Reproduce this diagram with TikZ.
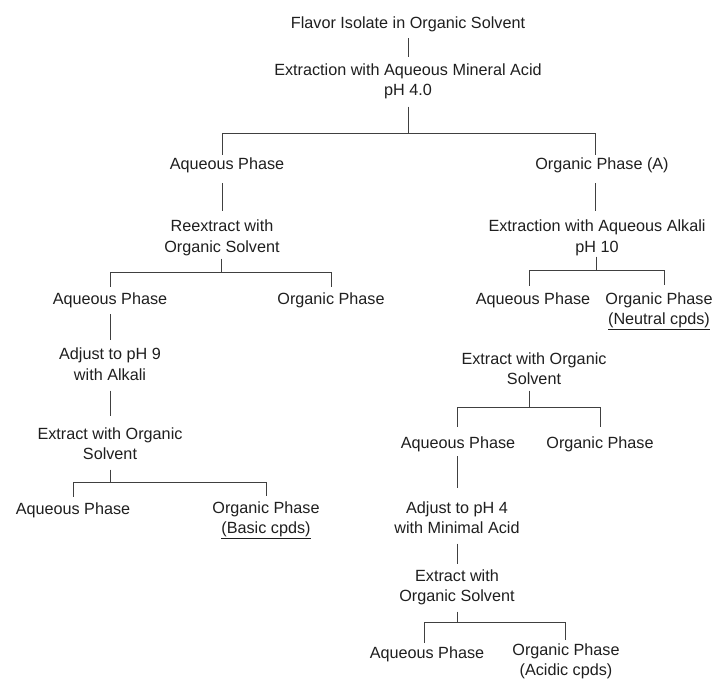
\documentclass[tikz,border=0pt]{standalone}
\usepackage{fontspec}
\setmainfont{Liberation Sans}
\usetikzlibrary{calc}
\begin{document}
\begin{tikzpicture}[x=1pt,y=-1pt,
  lbl/.style={font=\fontsize{16.2}{20.5}\selectfont, align=center, inner sep=0pt, text=black!88},
  ln/.style={draw=black!75, line width=0.9pt}]
\useasboundingbox (0,0) rectangle (715,680);
\clip (0,0) rectangle (715,680);
\fill[white] (0,0) rectangle (715,680);

% nodes
\node[lbl] (t0) at (408,24.5) {\strut Flavor Isolate in Organic Solvent};
\node[lbl] (e1) at (408,81.5) {\strut Extraction with Aqueous Mineral Acid\\\strut pH 4.0};
\node[lbl] (a1) at (227,165) {\strut Aqueous Phase};
\node[lbl] (o1) at (602,165) {\strut Organic Phase (A)};
\node[lbl] (r1) at (222,238) {\strut Reextract with\\\strut Organic Solvent};
\node[lbl] (x1) at (597,238) {\strut Extraction with Aqueous Alkali\\\strut pH 10};
\node[lbl] (a2) at (110,300) {\strut Aqueous Phase};
\node[lbl] (o2) at (331,300) {\strut Organic Phase};
\node[lbl] (a3) at (533,300) {\strut Aqueous Phase};
\node[lbl] (o3) at (659,310.5) {\strut Organic Phase\\\strut\underline{(Neutral cpds)}};
\node[lbl] (aj1) at (110,366) {\strut Adjust to pH 9\\\strut with Alkali};
\node[lbl] (s1) at (110,445.5) {\strut Extract with Organic\\\strut Solvent};
\node[lbl] (a4) at (73,510) {\strut Aqueous Phase};
\node[lbl] (o4) at (266,519.5) {\strut Organic Phase\\\strut\underline{(Basic cpds)}};
\node[lbl] (x2) at (534,370.5) {\strut Extract with Organic\\\strut Solvent};
\node[lbl] (a5) at (458,444) {\strut Aqueous Phase};
\node[lbl] (o5) at (600,444) {\strut Organic Phase};
\node[lbl] (aj2) at (457,519.5) {\strut Adjust to pH 4\\\strut with Minimal Acid};
\node[lbl] (s2) at (457,587.5) {\strut Extract with\\\strut Organic Solvent};
\node[lbl] (a6) at (427,654) {\strut Aqueous Phase};
\node[lbl] (o6) at (566,661.5) {\strut Organic Phase\\\strut\underline{(Acidic cpds)}};

% junctions and bar ends
\coordinate (j1) at (408,133); \coordinate (b1l) at (222,133); \coordinate (b1r) at (595,133);
\coordinate (j2) at (221,272); \coordinate (b2l) at (110,272); \coordinate (b2r) at (331,272);
\coordinate (j3) at (596,270); \coordinate (b3l) at (529,270); \coordinate (b3r) at (664,270);
\coordinate (j4) at (110,482); \coordinate (b4l) at (73,482);  \coordinate (b4r) at (266,482);
\coordinate (j5) at (529,407); \coordinate (b5l) at (457,407); \coordinate (b5r) at (600,407);
\coordinate (j6) at (457,622); \coordinate (b6l) at (424,622); \coordinate (b6r) at (565,622);

% connectors
\draw[ln] ($(t0.south)+(0,3.5)$) -- ($(e1.north)+(0,-3.5)$);
\draw[ln] ($(e1.south)+(0,4.5)$) -- (j1);
\draw[ln] (b1l) -- (b1r);
\draw[ln] (b1l) -- (b1l |- a1.north);
\draw[ln] (b1r) -- (b1r |- o1.north);
\draw[ln] ($(b1l |- a1.south)+(0,8)$) -- ($(b1l |- r1.north)+(0,-6)$);
\draw[ln] ($(b1r |- o1.south)+(0,8)$) -- ($(b1r |- x1.north)+(0,-6)$);

\draw[ln] (j2 |- r1.south) -- (j2);
\draw[ln] (b2l) -- (b2r);
\draw[ln] (b2l) -- ($(b2l |- a2.north)+(0,-3)$);
\draw[ln] (b2r) -- ($(b2r |- o2.north)+(0,-3)$);

\draw[ln] ($(j3 |- x1.south)+(0,-2)$) -- (j3);
\draw[ln] (b3l) -- (b3r);
\draw[ln] (b3l) -- ($(b3l |- a3.north)+(0,-4)$);
\draw[ln] (b3r) -- ($(b3r |- o3.north)+(0,-4.5)$);

\draw[ln] ($(b2l |- a2.south)+(0,4)$) -- ($(b2l |- aj1.north)+(0,-5)$);
\draw[ln] ($(b2l |- aj1.south)+(0,4)$) -- ($(b2l |- s1.north)+(0,-8.5)$);

\draw[ln] ($(j4 |- s1.south)+(0,3.5)$) -- (j4);
\draw[ln] (b4l) -- (b4r);
\draw[ln] (b4l) -- ($(b4l |- a4.north)+(0,-3)$);
\draw[ln] (b4r) -- ($(b4r |- o4.north)+(0,-2.5)$);

\draw[ln] ($(j5 |- x2.south)+(0,-0.5)$) -- (j5);
\draw[ln] (b5l) -- (b5r);
\draw[ln] (b5l) -- ($(b5l |- a5.north)+(0,-7)$);
\draw[ln] (b5r) -- ($(b5r |- o5.north)+(0,-7)$);

\draw[ln] ($(b5l |- a5.south)+(0,2)$) -- ($(b5l |- aj2.north)+(0,-10.5)$);
\draw[ln] ($(b5l |- aj2.south)+(0,3.5)$) -- ($(b5l |- s2.north)+(0,-2.5)$);

\draw[ln] ($(j6 |- s2.south)+(0,3.5)$) -- (j6);
\draw[ln] (b6l) -- (b6r);
\draw[ln] (b6l) -- ($(b6l |- a6.north)+(0,-1)$);
\draw[ln] (b6r) -- ($(b6r |- o6.north)+(0,-0.5)$);
\end{tikzpicture}
\end{document}
